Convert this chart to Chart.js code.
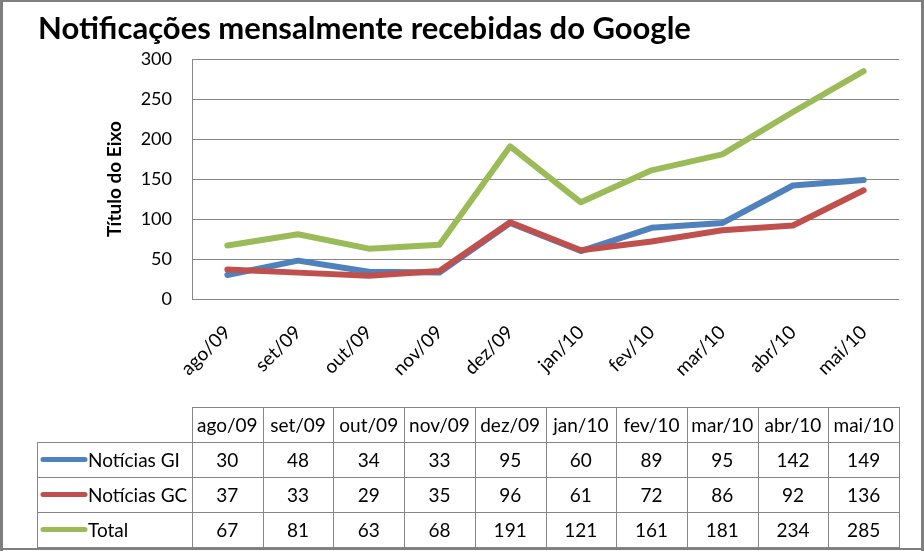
<!DOCTYPE html>
<html lang="pt">
<head>
  <meta charset="UTF-8">
  <title>Notificações mensalmente recebidas do Google</title>
  <script src="https://cdn.jsdelivr.net/npm/chart.js"></script>
  <style>
    html, body { margin: 0; padding: 0; background: #fff; }
    #wrap { width: 924px; height: 551px; position: relative; }
  </style>
</head>
<body>
  <div id="wrap">
    <canvas id="grafico" width="924" height="551"></canvas>
  </div>

  <script>
    const meses = ['ago/09', 'set/09', 'out/09', 'nov/09', 'dez/09', 'jan/10', 'fev/10', 'mar/10', 'abr/10', 'mai/10'];
    const noticiasGI = [30, 48, 34, 33, 95, 60, 89, 95, 142, 149];
    const noticiasGC = [37, 33, 29, 35, 96, 61, 72, 86, 92, 136];
    const total = [67, 81, 63, 68, 191, 121, 161, 181, 234, 285];
    const nomesSeries = ['Notícias GI', 'Notícias GC', 'Total'];
    const coresSeries = ['#4F81BD', '#C0504D', '#9BBB59'];
    const eixoY = { min: 0, max: 300, passo: 50 };

    const fonte = 'Lato, "Open Sans", sans-serif';
    const cinza = '#868686';

    // moldura + tabela de dados por baixo do gráfico
    const tabelaPlugin = {
      id: 'tabelaDados',
      afterDraw(chart) {
        const ctx = chart.ctx;
        const x = chart.scales.x;
        const area = chart.chartArea;
        const n = meses.length;
        const larg = (x.right - x.left) / n;
        const topo = area.bottom + 108;
        const alt = 35;
        const esq = 37;
        const linhas = [noticiasGI, noticiasGC, total];

        ctx.save();
        ctx.strokeStyle = cinza;
        ctx.lineWidth = 1;

        // linha do cabeçalho
        ctx.strokeRect(Math.round(x.left) + 0.5, topo + 0.5, Math.round(x.right - x.left), alt);
        // linhas das séries
        ctx.strokeRect(esq + 0.5, topo + alt + 0.5, Math.round(x.right) - esq, alt * 3);
        ctx.beginPath();
        for (let r = 1; r < 3; r++) {
          const yy = topo + alt * (r + 1) + 0.5;
          ctx.moveTo(esq, yy);
          ctx.lineTo(Math.round(x.right), yy);
        }
        for (let i = 0; i <= n; i++) {
          const xx = Math.round(x.left + i * larg) + 0.5;
          ctx.moveTo(xx, topo);
          ctx.lineTo(xx, topo + alt * 4);
        }
        ctx.stroke();

        ctx.fillStyle = '#000';
        ctx.font = '19px ' + fonte;
        ctx.textAlign = 'center';
        ctx.textBaseline = 'middle';
        meses.forEach((m, i) => {
          const cx = x.getPixelForValue(i);
          ctx.fillText(m, cx, topo + alt / 2 + 1);
          linhas.forEach((serie, r) => {
            ctx.fillText(String(serie[i]), cx, topo + alt * (r + 1) + alt / 2 + 1);
          });
        });

        // legenda na primeira coluna
        linhas.forEach((serie, r) => {
          const yy = topo + alt * (r + 1) + alt / 2;
          ctx.strokeStyle = coresSeries[r];
          ctx.lineWidth = 5;
          ctx.lineCap = 'round';
          ctx.beginPath();
          ctx.moveTo(esq + 6, yy);
          ctx.lineTo(esq + 48, yy);
          ctx.stroke();
          ctx.textAlign = 'left';
          ctx.fillText(nomesSeries[r], esq + 51, yy + 1);
        });

        // moldura externa
        ctx.fillStyle = '#7f7f7f';
        ctx.fillRect(0, 0, 3, 551);
        ctx.fillRect(0, 0, 924, 2);
        ctx.fillRect(921, 0, 3, 551);
        ctx.fillRect(0, 548, 924, 2);
        ctx.restore();
      }
    };

    const ctx = document.getElementById('grafico').getContext('2d');
    const grafico = new Chart(ctx, {
      type: 'line',
      data: {
        labels: meses,
        datasets: [
          { label: nomesSeries[0], data: noticiasGI, borderColor: coresSeries[0], backgroundColor: coresSeries[0], order: 3 },
          { label: nomesSeries[1], data: noticiasGC, borderColor: coresSeries[1], backgroundColor: coresSeries[1], order: 2 },
          { label: nomesSeries[2], data: total, borderColor: coresSeries[2], backgroundColor: coresSeries[2], order: 1 }
        ]
      },
      options: {
        responsive: false,
        animation: false,
        devicePixelRatio: 1,
        elements: {
          line: { borderWidth: 6, borderCapStyle: 'round', borderJoinStyle: 'round', tension: 0 },
          point: { radius: 0, hoverRadius: 0 }
        },
        layout: { padding: { left: 38, top: 0, right: 25, bottom: 152 } },
        plugins: {
          legend: { display: false },
          tooltip: { enabled: false },
          title: {
            display: true,
            text: 'Notificações mensalmente recebidas do Google',
            align: 'start',
            color: '#000',
            font: { family: fonte, size: 31, weight: 'bold' },
            padding: { top: 10, bottom: 12 }
          }
        },
        scales: {
          x: {
            offset: true,
            grid: { display: false, drawTicks: false },
            border: { display: false },
            ticks: {
              color: '#000',
              font: { family: fonte, size: 19 },
              maxRotation: 45,
              minRotation: 45,
              autoSkip: false,
              padding: 22
            },
            afterFit(scale) { scale.height = 100; }
          },
          y: {
            min: eixoY.min,
            max: eixoY.max,
            grid: { color: cinza, drawTicks: false },
            border: { display: true, color: cinza },
            ticks: {
              stepSize: eixoY.passo,
              color: '#000',
              font: { family: fonte, size: 18 },
              padding: 20
            },
            title: {
              display: true,
              text: 'Título do Eixo',
              color: '#000',
              font: { family: fonte, size: 19, weight: 'bold' },
              padding: { top: 65, bottom: 0 }
            },
            afterFit(scale) { scale.width = 154; }
          }
        }
      },
      plugins: [tabelaPlugin]
    });
  </script>
</body>
</html>
